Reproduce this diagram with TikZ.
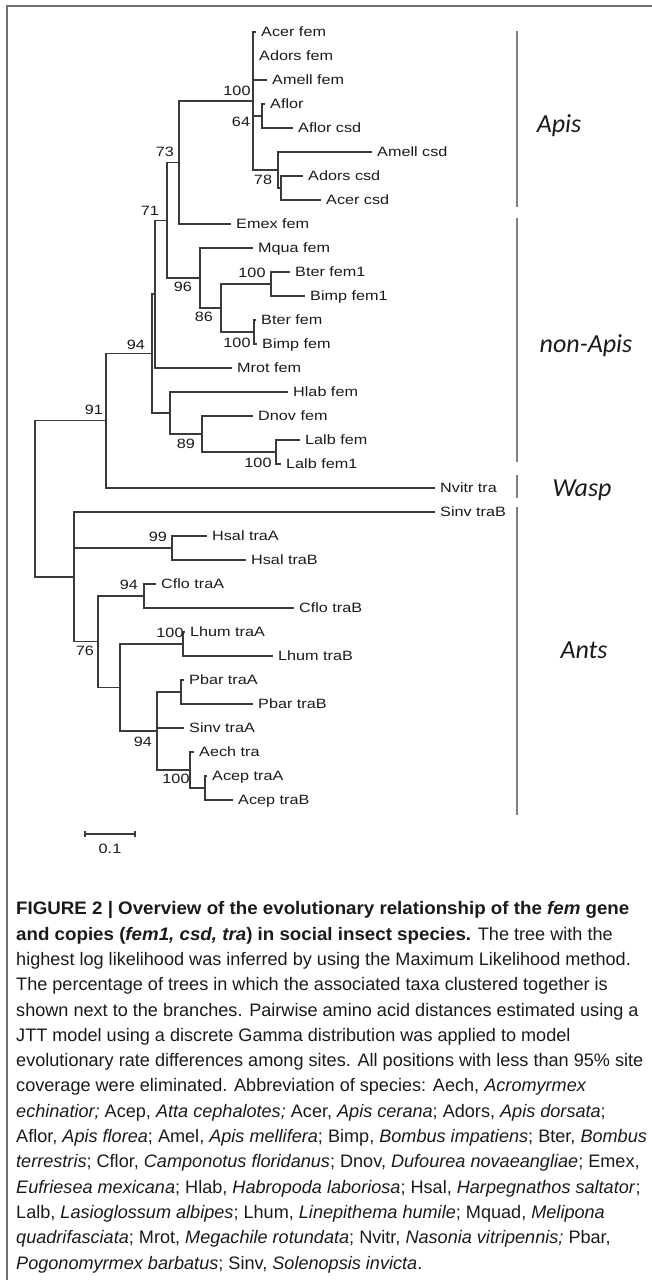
\documentclass[tikz,border=0pt]{standalone}
\usepackage{fontspec}
\setmainfont{Liberation Sans}[BoldFeatures={FakeStretch=1.035},BoldItalicFeatures={FakeStretch=1.035}]
\newfontfamily\treefont[FakeStretch=1.2]{Liberation Sans}
\newfontfamily\cladefont{Carlito}
\definecolor{trLine}{HTML}{3A3A3A}
\definecolor{trBar}{HTML}{808080}
\definecolor{trFrame}{HTML}{707070}
\definecolor{trText}{HTML}{1A1A1A}
\usetikzlibrary{calc,positioning}

\begin{document}
\begin{tikzpicture}[x=1pt, y=-1pt,
    branch/.style={trLine, line width=1.2pt},
    taxon/.style={anchor=base west, inner sep=0pt, xshift=5pt, yshift=-4.8pt,
      font=\treefont\fontsize{13.5}{16}\selectfont, text=trText},
    boot/.style={inner sep=0pt, font=\treefont\fontsize{13.5}{16}\selectfont, text=trText},
    cladebar/.style={trBar, line width=1.3pt},
    clade/.style={anchor=base, inner sep=0pt, font=\cladefont\itshape\fontsize{26}{30}\selectfont, text=trText},
    caption/.style={anchor=base west, inner sep=0pt, align=left, text=trText,
      font=\fontsize{18.1}{25.3}\selectfont}]
  \useasboundingbox (0,0) rectangle (652,1280);

  % Frame
  \draw[trFrame, line width=1.6pt] (7,1280) -- (7,6) -- (652,6);

  % Taxa (tip x / row)
  \foreach \tname/\tx/\row/\ttext in {
      acerfem/256/0/Acer fem, adorsfem/254/1/Adors fem, amellfem/267/2/Amell fem,
      aflor/265/3/Aflor, aflorcsd/293/4/Aflor csd, amellcsd/372/5/Amell csd,
      adorscsd/303/6/Adors csd, acercsd/321/7/Acer csd, emexfem/231/8/Emex fem,
      mquafem/253/9/Mqua fem, bterfemi/290/10/Bter fem1, bimpfemi/305/11/Bimp fem1,
      bterfem/256/12/Bter fem, bimpfem/257/13/Bimp fem, mrotfem/232/14/Mrot fem,
      hlabfem/288/15/Hlab fem, dnovfem/253/16/Dnov fem, lalbfem/300/17/Lalb fem,
      lalbfemi/281/18/Lalb fem1, nvitrtra/435/19/Nvitr tra, sinvtrab/435/20/Sinv traB,
      hsaltraa/207/21/Hsal traA, hsaltrab/246/22/Hsal traB, cflotraa/156/23/Cflo traA,
      cflotrab/294/24/Cflo traB, lhumtraa/185/25/Lhum traA, lhumtrab/273/26/Lhum traB,
      pbartraa/184/27/Pbar traA, pbartrab/253/28/Pbar traB, sinvtraa/184/29/Sinv traA,
      aechtra/194/30/Aech tra, aceptraa/207/31/Acep traA, aceptrab/233/32/Acep traB} {
    \coordinate (\tname) at (\tx, 32+24*\row);
    \node[taxon] (l\tname) at (\tname) {\ttext};
  }

  % Internal nodes (x of vertical, y of stem)
  \coordinate (root) at (35,498.8);
  \coordinate (n91) at (106,420.8);
  \coordinate (n94a) at (152,353.6);
  \coordinate (nx) at (155,294);
  \coordinate (n71) at (167,220.3);
  \coordinate (n73) at (179,162.5);
  \coordinate (n100a) at (253,101);
  \coordinate (n64) at (262,116);
  \coordinate (n78) at (278,170);
  \coordinate (naa) at (281,188);
  \coordinate (n96) at (200,278);
  \coordinate (n86) at (221,308);
  \coordinate (nbi) at (271,284);
  \coordinate (nbii) at (254,332);
  \coordinate (nh) at (170,413);
  \coordinate (n89) at (202,434);
  \coordinate (nl) at (276,452);
  \coordinate (nants) at (74,576.9);
  \coordinate (n99) at (172,548);
  \coordinate (n76) at (98,641.8);
  \coordinate (nc) at (144,596);
  \coordinate (ny) at (120,687.5);
  \coordinate (nlh) at (183,644);
  \coordinate (n94c) at (157,731);
  \coordinate (np) at (181,692);
  \coordinate (nae) at (190,770);
  \coordinate (nac) at (205,788);

  % Branches
  \foreach \pa/\ch in {root/n91, root/nants, n91/n94a, n91/nvitrtra, n94a/nx, n94a/nh,
      nx/n71, nx/mrotfem, n71/n73, n71/n96, n73/n100a, n73/emexfem,
      n100a/acerfem, n100a/adorsfem, n100a/amellfem, n100a/n64, n100a/n78,
      n64/aflor, n64/aflorcsd, n78/amellcsd, n78/naa, naa/adorscsd, naa/acercsd,
      n96/mquafem, n96/n86, n86/nbi, n86/nbii, nbi/bterfemi, nbi/bimpfemi,
      nbii/bterfem, nbii/bimpfem, nh/hlabfem, nh/n89, n89/dnovfem, n89/nl,
      nl/lalbfem, nl/lalbfemi, nants/sinvtrab, nants/n99, nants/n76,
      n99/hsaltraa, n99/hsaltrab, n76/nc, n76/ny, nc/cflotraa, nc/cflotrab,
      ny/nlh, ny/n94c, nlh/lhumtraa, nlh/lhumtrab, n94c/np, n94c/sinvtraa, n94c/nae,
      np/pbartraa, np/pbartrab, nae/aechtra, nae/nac, nac/aceptraa, nac/aceptrab}
    \draw[branch] (\pa) |- (\ch);

  % Bootstrap values
  \node[boot] (b100a) at (237,91) {100};
  \node[boot] (b64) at (241,122) {64};
  \node[boot] (b78) at (263,180) {78};
  \node[boot] (b73) at (165,152) {73};
  \node[boot] (b71) at (150,211) {71};
  \node[boot] (b96) at (183,287) {96};
  \node[boot] (b86) at (204,317) {86};
  \node[boot] (b100b) at (252,273) {100};
  \node[boot] (b100c) at (237,343) {100};
  \node[boot] (b94a) at (136,345) {94};
  \node[boot] (b91) at (94,410) {91};
  \node[boot] (b89) at (186,444) {89};
  \node[boot] (b100d) at (258,463) {100};
  \node[boot] (b99) at (158,537) {99};
  \node[boot] (b94b) at (129,585) {94};
  \node[boot] (b76) at (85,651) {76};
  \node[boot] (b100e) at (170,633) {100};
  \node[boot] (b94c) at (143,742) {94};
  \node[boot] (b100f) at (176,779) {100};

  % Clade bars and names
  \draw[cladebar] (517,31) -- (517,207);
  \draw[cladebar] (517,218) -- (517,462);
  \draw[cladebar] (517,475) -- (517,498);
  \draw[cladebar] (517,507) -- (517,815);
  \node[clade] (apis) at (559,132) {Apis};
  \node[clade] (nonapis) at (586,352) {non-Apis};
  \node[clade] (wasp) at (582,496) {Wasp};
  \node[clade] (ants) at (584,658) {Ants};

  % Scale bar
  \coordinate (sbl) at (85,834);
  \coordinate (sbr) at (135,834);
  \draw[branch] (sbl) -- (sbr);
  \draw[branch] ($(sbl)+(0,-3)$) -- ($(sbl)+(0,3)$);
  \draw[branch] ($(sbr)+(0,-3)$) -- ($(sbr)+(0,3)$);
  \node[boot] (sblabel) at (110,849) {0.1};

  % Caption (base = last line)
  \node[caption] (cap) at (16,1269) {%
    \textbf{FIGURE 2 | Overview of the evolutionary relationship of the \textit{fem} gene}\\
    \textbf{and copies (\textit{fem1, csd, tra}) in social insect species.} The tree with the\\
    highest log likelihood was inferred by using the Maximum Likelihood method.\\
    The percentage of trees in which the associated taxa clustered together is\\
    shown next to the branches. Pairwise amino acid distances estimated using a\\
    JTT model using a discrete Gamma distribution was applied to model\\
    evolutionary rate differences among sites. All positions with less than 95\% site\\
    coverage were eliminated. Abbreviation of species: Aech, \textit{Acromyrmex}\\
    \textit{echinatior;} Acep, \textit{Atta cephalotes;} Acer, \textit{Apis cerana}; Adors, \textit{Apis dorsata};\\
    Aflor, \textit{Apis florea}; Amel, \textit{Apis mellifera}; Bimp, \textit{Bombus impatiens}; Bter, \textit{Bombus}\\
    \textit{terrestris}; Cflor, \textit{Camponotus floridanus}; Dnov, \textit{Dufourea novaeangliae}; Emex,\\
    \textit{Eufriesea mexicana}; Hlab, \textit{Habropoda laboriosa}; Hsal, \textit{Harpegnathos saltator};\\
    Lalb, \textit{Lasioglossum albipes}; Lhum, \textit{Linepithema humile}; Mquad, \textit{Melipona}\\
    \textit{quadrifasciata}; Mrot, \textit{Megachile rotundata}; Nvitr, \textit{Nasonia vitripennis;} Pbar,\\
    \textit{Pogonomyrmex barbatus}; Sinv, \textit{Solenopsis invicta}.};
\end{tikzpicture}
\end{document}
